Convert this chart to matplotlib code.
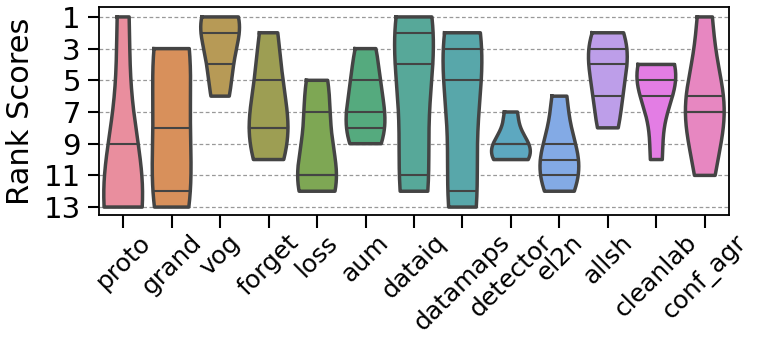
import numpy as np
import matplotlib
matplotlib.use("Agg")
import matplotlib.pyplot as plt
import seaborn as sns

# methods on the x axis, and their rank over the 5 settings
methods = ['proto', 'grand', 'vog', 'forget', 'loss', 'aum', 'dataiq',
           'datamaps', 'detector', 'el2n', 'allsh', 'cleanlab', 'conf_agr']
proto = [1, 9, 13, 13, 13]
grand = [3, 3, 8, 12, 13]
vog = [1, 1, 2, 4, 6]
forget = [2, 5, 8, 8, 10]
loss = [5, 7, 11, 11, 12]
aum = [3, 5, 7, 8, 9]
dataiq = [1, 2, 4, 11, 12]
datamaps = [2, 3, 5, 12, 13]
detector = [7, 9, 9, 10, 10]
el2n = [6, 9, 10, 11, 12]
allsh = [2, 3, 4, 6, 8]
cleanlab = [4, 4, 5, 6, 10]
conf_agr = [1, 6, 7, 7, 11]
ranks = [proto, grand, vog, forget, loss, aum, dataiq, datamaps,
         detector, el2n, allsh, cleanlab, conf_agr]
yticks = [1, 3, 5, 7, 9, 11, 13]

# husl palette, desaturated like seaborn's violins, a bit lighter
colors = [np.array(sns.desaturate(c, 0.75)) * 0.9 + 0.1
          for c in sns.color_palette('husl', len(methods))]
edge = '#444444'


def kde(obs, grid):
    obs = np.asarray(obs, float)
    bw = len(obs) ** (-1 / 5) * obs.std(ddof=1)
    return np.exp(-0.5 * ((grid[:, None] - obs[None, :]) / bw) ** 2).sum(axis=1)


fig = plt.figure(figsize=(7.61, 3.37), dpi=100)
ax = fig.add_axes([0.130, 0.362, 0.828, 0.616])

ax.yaxis.grid(True, linestyle=(0, (3, 2)), color='#999999', linewidth=0.9)
ax.set_axisbelow(True)

half = 0.4
for i, (obs, col) in enumerate(zip(ranks, colors)):
    grid = np.linspace(min(obs), max(obs), 100)
    dens = kde(obs, grid)
    dens = dens / dens.max() * half
    ax.fill_betweenx(grid, i - dens, i + dens, facecolor=col,
                     edgecolor='none', zorder=2)
    ax.plot(np.r_[i - dens, (i + dens)[::-1], i - dens[0]],
            np.r_[grid, grid[::-1], grid[0]], color=edge, lw=2.5,
            solid_joinstyle='round', zorder=3)
    for q in np.percentile(obs, [25, 50, 75]):
        w = np.interp(q, grid, dens)
        ax.plot([i - w, i + w], [q, q], color=edge, lw=1.5, zorder=3)

ax.set_xlim(-0.5, len(methods) - 0.5)
ax.set_ylim(13.5, 0.4)
ax.set_yticks(yticks)
ax.set_xticks(range(len(methods)))
ax.set_xticklabels(methods, rotation=45, fontsize=18)
ax.tick_params(axis='y', labelsize=21, length=8, width=1.5, pad=5)
ax.tick_params(axis='x', length=9, width=1.5, pad=2)
ax.set_ylabel('Rank Scores', fontsize=22, labelpad=6)
for s in ax.spines.values():
    s.set_linewidth(1.3)

plt.savefig('out.png', dpi=100)
